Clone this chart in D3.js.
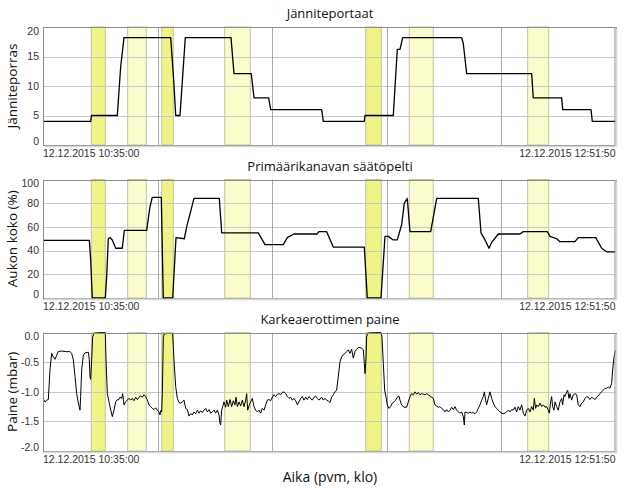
<!DOCTYPE html>
<html><head><meta charset="utf-8">
<script src="https://cdn.jsdelivr.net/npm/d3@7"></script>
<style>
body{margin:0;background:#fff;}
svg{display:block;}
</style></head>
<body>
<svg id="c" width="630" height="492"></svg>
<script>
// Time in minutes since 12.12.2015 10:35:00 (end 12:51:50)
const xDomain = [0, 136.833];
const startLabel = "12.12.2015 10:35:00";
const endLabel = "12.12.2015 12:51:50";
const xAxisTitle = "Aika (pvm, klo)";

// Highlight periods [start, end, strong]
const bands = [
  [11.54, 14.89, 1], [20.24, 24.69, 0], [28.37, 31.14, 1], [43.43, 49.55, 0],
  [77.13, 80.86, 1], [87.55, 93.28, 0], [115.84, 120.86, 0]
];

// Panel 1: Jänniteporras
const voltTime = [0,11.40,11.59,17.76,18.57,19.36,30.52,31.24,31.72,32.74,34.01,44.93,45.65,49.78,50.43,53.94,54.42,66.61,66.99,76.79,76.96,83.72,84.68,85.32,85.97,100.07,100.45,101.26,116.80,117.18,123.97,124.21,130.97,131.29,136.83];
const voltStep = [4,4,5,5,13.3,18.2,18.2,11,5,5,18.2,18.2,12.1,12.1,8,8,6,6,4,4,5,5,16.2,16.2,18.2,18.2,17.2,12.1,12.1,8,8,6,6,4,4];

// Panel 2: Aukon koko (%)
const damperTime = [0,11.07,11.40,11.78,14.89,15.22,15.61,16.01,16.56,17.38,18.95,19.43,24.78,25.57,26.12,28.27,28.75,31.00,31.79,33.77,34.34,36.09,42.14,42.71,51.46,53.06,57.43,58.39,59.99,65.49,65.96,67.80,69.38,76.79,77.51,80.78,81.74,82.53,83.72,84.68,85.73,86.35,87.07,87.71,92.66,94.10,104.04,104.69,105.64,106.60,107.24,108.82,114.00,114.79,120.53,121.17,122.77,123.56,127.15,127.94,132.10,133.54,134.72,136.83];
const damperOpen = [48.7,48.7,32,0,0,18,50,51,49,42,42,57,57,77,85,85,0,0,51,50,60,84,84,55,55,45,45,51,54,54,56,56,43,43,0,0,52,52,49,49,62,80,84,56,56,84,84,55,49,42,47,54,54,56,56,52,50,47.5,47.5,51,51,42,39,39];

// Panel 3: Paine (mbar)
const pressTime = [0,0.48,0.88,1.27,1.67,2.07,2.47,2.87,3.27,3.66,4.46,5.66,6.45,6.85,7.25,7.65,8.05,8.45,8.84,9.00,9.24,9.64,10.04,10.84,11.07,11.23,11.39,11.63,11.87,12.19,13.62,14.90,15.06,15.38,16.01,16.57,16.97,17.37,17.77,18.01,18.40,18.80,19.04,19.36,19.76,20.16,20.55,20.95,21.35,21.75,22.15,22.55,22.94,23.34,23.74,24.14,24.54,24.94,25.33,25.73,26.13,26.53,26.93,27.33,27.73,27.96,28.20,28.36,28.52,28.76,29.00,30.35,30.99,31.31,31.71,32.11,32.51,32.90,33.30,33.70,34.10,34.50,34.90,35.29,35.69,36.09,36.49,36.89,37.29,37.68,38.08,38.48,38.88,39.28,39.68,40.07,40.47,40.87,41.27,41.67,42.07,42.30,42.46,42.70,42.94,43.26,43.66,43.90,44.30,44.70,45.09,45.49,45.89,46.13,46.45,46.85,47.24,47.64,48.04,48.44,48.68,48.92,49.32,49.63,50.03,50.43,50.83,51.23,51.63,52.02,52.42,52.82,53.22,53.62,54.02,54.41,54.81,55.21,55.61,56.01,56.41,56.80,57.20,57.60,58.00,58.40,58.80,59.19,59.59,59.99,60.39,60.79,61.19,61.58,61.98,62.38,62.78,63.18,63.58,63.97,64.37,64.77,65.17,65.57,65.97,66.60,67.00,67.40,67.79,68.19,68.59,68.99,69.39,69.79,70.18,70.58,70.98,71.38,71.78,72.18,72.57,72.97,73.37,73.77,74.17,74.57,74.96,75.36,75.76,76.16,76.56,76.80,76.96,77.19,77.35,77.59,78.95,80.78,81.02,81.34,81.66,81.97,82.29,82.69,83.09,83.49,83.89,84.29,84.68,85.08,85.32,85.72,86.28,86.91,87.31,87.71,88.11,88.51,88.91,89.30,89.70,90.10,90.50,90.90,91.30,91.69,92.09,92.49,92.89,93.29,93.69,94.08,94.48,94.88,95.28,95.68,96.08,96.47,96.87,97.27,97.67,98.07,98.47,98.86,99.26,99.66,100.06,100.46,100.70,100.86,101.25,101.65,102.05,102.45,102.85,103.25,103.65,104.04,104.44,104.84,105.24,105.48,105.80,106.03,106.43,106.83,107.23,107.63,108.03,108.42,108.82,109.22,109.62,110.02,110.42,110.81,111.21,111.61,112.01,112.41,112.81,113.20,113.60,114.00,114.40,114.80,115.20,115.60,115.99,116.39,116.79,117.19,117.43,117.75,117.99,118.38,118.78,119.18,119.58,119.98,120.38,120.77,121.01,121.33,121.57,121.81,122.13,122.37,122.77,123.16,123.56,123.96,124.20,124.52,124.76,125.16,125.40,125.71,125.95,126.35,126.75,127.15,127.55,127.94,128.34,128.74,129.14,129.54,129.94,130.33,130.73,131.13,131.53,131.93,132.33,132.72,133.12,133.52,133.92,134.32,134.72,135.12,135.51,135.91,136.15,136.39,136.63,136.83];
const pressVal = [-1.11,-1.17,-1.14,-1.13,-0.63,-0.35,-0.41,-0.45,-0.38,-0.32,-0.31,-0.32,-0.32,-0.35,-0.46,-0.74,-1.03,-1.19,-1.31,-1.08,-0.63,-0.38,-0.34,-0.33,-0.46,-0.74,-0.79,-0.46,-0.07,-0.01,0,0,-0.46,-1.03,-1.25,-1.42,-1.31,-1.17,-1.13,-1.14,-1.09,-1.11,-1.03,-1.22,-1.17,-1.14,-1.11,-1.14,-1.11,-1.15,-1.09,-1.13,-1.09,-1.07,-1.09,-1.05,-1.08,-1.14,-1.22,-1.25,-1.28,-1.30,-1.27,-1.31,-1.34,-1.39,-1.31,-1.34,-1.03,-0.07,-0.02,-0.01,-0.02,-0.46,-0.91,-1.11,-1.18,-1.19,-1.17,-1.14,-1.28,-1.30,-1.41,-1.37,-1.39,-1.34,-1.37,-1.31,-1.36,-1.32,-1.35,-1.31,-1.28,-1.34,-1.30,-1.36,-1.34,-1.31,-1.36,-1.31,-1.39,-1.53,-1.56,-1.31,-1.25,-1.17,-1.26,-1.14,-1.25,-1.13,-1.25,-1.15,-1.22,-1.09,-1.25,-1.17,-1.24,-1.14,-1.25,-1.14,-1.03,-1.31,-1.22,-1.17,-1.11,-1.25,-1.31,-1.34,-1.31,-1.36,-1.28,-1.31,-1.22,-1.14,-1.13,-1.15,-1.09,-1.05,-1.08,-1.04,-1.03,-1.05,-1.01,-1.00,-1.03,-1.08,-1.11,-1.09,-1.14,-1.11,-1.15,-1.22,-1.17,-1.11,-1.08,-1.14,-1.09,-1.13,-1.08,-1.11,-1.14,-1.09,-1.07,-1.11,-1.14,-1.09,-1.14,-1.11,-1.14,-1.15,-1.18,-1.09,-1.05,-1.00,-0.97,-0.74,-0.49,-0.41,-0.37,-0.35,-0.32,-0.29,-0.35,-0.28,-0.43,-0.32,-0.28,-0.25,-0.25,-0.26,-0.29,-0.52,-0.69,-0.46,-0.07,-0.01,0,0,-0.07,-0.52,-0.97,-1.08,-1.22,-1.28,-1.25,-1.19,-1.17,-1.14,-1.09,-1.07,-1.14,-1.22,-1.26,-1.26,-1.17,-1.08,-1.03,-1.05,-1.00,-1.04,-1.01,-1.05,-1.03,-1.04,-1.05,-1.03,-1.05,-1.07,-1.09,-1.11,-1.22,-1.24,-1.26,-1.25,-1.28,-1.30,-1.34,-1.30,-1.34,-1.31,-1.26,-1.30,-1.25,-1.31,-1.34,-1.36,-1.34,-1.42,-1.56,-1.34,-1.35,-1.36,-1.34,-1.36,-1.35,-1.37,-1.34,-1.28,-1.22,-1.14,-1.08,-1.00,-1.14,-1.22,-1.11,-1.00,-1.11,-1.19,-1.25,-1.28,-1.31,-1.34,-1.36,-1.37,-1.36,-1.34,-1.31,-1.34,-1.30,-1.31,-1.26,-1.34,-1.25,-1.31,-1.22,-1.36,-1.41,-1.31,-1.28,-1.34,-1.25,-1.31,-1.11,-1.28,-1.22,-1.25,-1.19,-1.25,-1.22,-1.26,-1.25,-1.31,-1.36,-1.17,-1.08,-1.25,-1.31,-1.17,-1.25,-1.31,-1.17,-1.11,-1.22,-1.05,-1.08,-1.00,-0.97,-1.11,-1.03,-1.14,-1.05,-1.03,-1.05,-1.22,-1.25,-1.19,-1.17,-1.11,-1.08,-1.09,-1.13,-1.09,-1.11,-1.13,-1.09,-1.07,-1.03,-1.00,-0.97,-0.94,-0.94,-0.92,-0.94,-0.86,-0.63,-0.46,-0.35,-0.30];

const panels = [
  {title:"Jänniteportaat", ylabel:"Jänniteporras", time:voltTime, vals:voltStep, domain:[0,20], ticks:[0,5,10,15,20], fmt:d=>String(d), top:27, bottom:145, lw:1.3},
  {title:"Primäärikanavan säätöpelti", ylabel:"Aukon koko (%)", time:damperTime, vals:damperOpen, domain:[0,100], ticks:[0,20,40,60,80,100], fmt:d=>String(d), top:179.5, bottom:298, lw:1.3},
  {title:"Karkeaerottimen paine", ylabel:"Paine (mbar)", time:pressTime, vals:pressVal, domain:[-2,0], ticks:[-2,-1.5,-1,-0.5,0], fmt:d=>d.toFixed(1), top:332.7, bottom:451, lw:1}
];

const svg = d3.select("#c");
const left = 43, right = 615.5;
const x = d3.scaleLinear().domain(xDomain).range([left, right]);
const gridX = d3.range(0, 6).map(i => xDomain[0] + (xDomain[1]-xDomain[0])*i/5);
const tickFont = "'Liberation Sans', Arial, sans-serif";
const titleFont = "'Open Sans', 'Noto Sans', sans-serif";

panels.forEach(p => {
  const y = d3.scaleLinear().domain(p.domain).range([p.bottom, p.top]);
  const g = svg.append("g");
  g.append("rect").attr("x", left).attr("y", p.top).attr("width", right-left).attr("height", p.bottom-p.top).attr("fill", "#fff");
  // bands
  g.selectAll("rect.band").data(bands).join("rect").attr("class","band")
    .attr("x", d => x(d[0])).attr("y", p.top)
    .attr("width", d => x(d[1]) - x(d[0])).attr("height", p.bottom - p.top)
    .attr("fill", d => d[2] ? "#f0f386" : "#fafccc")
    .attr("stroke", "#c4c49a").attr("stroke-width", 1);
  // horizontal grid
  g.selectAll("line.hg").data(p.ticks).join("line").attr("class","hg")
    .attr("x1", left).attr("x2", right).attr("y1", d => Math.round(y(d))+0.5).attr("y2", d => Math.round(y(d))+0.5)
    .attr("stroke", "#c8c8c8").attr("stroke-width", 1);
  // vertical grid
  g.selectAll("line.vg").data(gridX).join("line").attr("class","vg")
    .attr("x1", d => Math.round(x(d))+0.5).attr("x2", d => Math.round(x(d))+0.5).attr("y1", p.top).attr("y2", p.bottom)
    .attr("stroke", "#a8a8a8").attr("stroke-width", 1);
  // line
  const pts = p.time.map((t,i)=>[t,p.vals[i]]);
  g.append("path").datum(pts)
    .attr("d", d3.line().x(d=>x(d[0])).y(d=>y(d[1])))
    .attr("fill","none").attr("stroke","#000").attr("stroke-width", p.lw).attr("stroke-linejoin","round");
  // frame
  g.append("rect").attr("x", left+0.5).attr("y", Math.round(p.top)+0.5).attr("width", right-left-1).attr("height", p.bottom-p.top)
    .attr("fill","none").attr("stroke","#8c8c8c").attr("stroke-width",1);
  g.append("line").attr("x1", right+1).attr("x2", right+1).attr("y1", p.top+2).attr("y2", p.bottom+2).attr("stroke","#d8d8d8").attr("stroke-width",1.5);
  g.append("line").attr("x1", left+2).attr("x2", right+1).attr("y1", p.bottom+1.5).attr("y2", p.bottom+1.5).attr("stroke","#d8d8d8").attr("stroke-width",1.5);
  // y tick labels
  g.selectAll("text.yt").data(p.ticks).join("text").attr("class","yt")
    .attr("x", 39).attr("y", d => Math.min(Math.max(y(d), p.top+4), p.bottom-4) + 3.7)
    .attr("text-anchor","end").attr("font-family", tickFont).attr("font-size", 10.5).attr("fill","#333")
    .text(p.fmt);
  // date labels
  g.append("text").attr("x", left).attr("y", p.bottom+11.8).attr("font-family", tickFont).attr("font-size", 10.5).attr("fill","#333").text(startLabel);
  g.append("text").attr("x", right).attr("y", p.bottom+11.8).attr("text-anchor","end").attr("font-family", tickFont).attr("font-size", 10.5).attr("fill","#333").text(endLabel);
  // title
  g.append("text").attr("x", 330).attr("y", p.top-9).attr("text-anchor","middle").attr("font-family", titleFont).attr("font-size", 13).attr("fill","#111").text(p.title);
  // y label
  g.append("text").attr("transform", `translate(17,${(p.top+p.bottom)/2}) rotate(-90)`).attr("text-anchor","middle")
    .attr("font-family", titleFont).attr("font-size", 13.5).attr("fill","#111").text(p.ylabel);
});

svg.append("text").attr("x", 330).attr("y", 482).attr("text-anchor","middle").attr("font-family", titleFont).attr("font-size", 14).attr("fill","#111").text(xAxisTitle);
</script>
</body></html>
